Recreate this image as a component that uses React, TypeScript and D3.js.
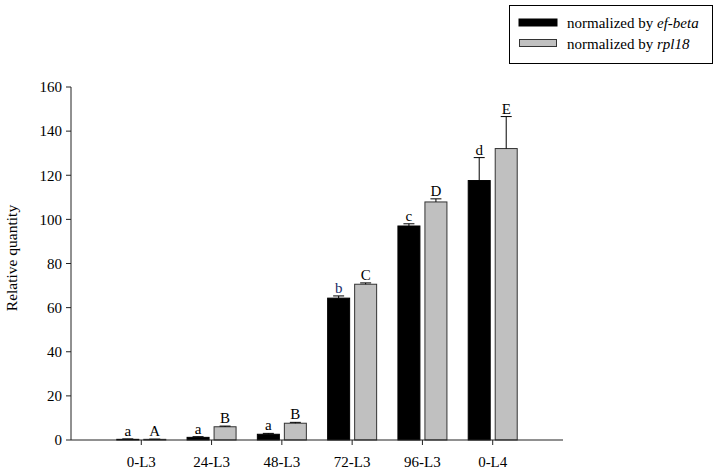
import * as React from 'react';
import * as d3 from 'd3';

const categories = ['0-L3', '24-L3', '48-L3', '72-L3', '96-L3', '0-L4'];
const efBeta = [0.3, 1.2, 2.6, 64.3, 97.0, 117.6];
const efBetaErr = [0.2, 0.3, 0.4, 1.0, 1.0, 10.4];
const efBetaLetters = ['a', 'a', 'a', 'b', 'c', 'd'];
const rpl18 = [0.3, 6.0, 7.6, 70.6, 107.9, 132.1];
const rpl18Err = [0.1, 0.3, 0.4, 0.6, 1.4, 14.5];
const rpl18Letters = ['A', 'B', 'B', 'C', 'D', 'E'];
const yTicks = [0, 20, 40, 60, 80, 100, 120, 140, 160];

const width = 719;
const height = 473;
const font = '"Liberation Serif", "Times New Roman", serif';

export default function App() {
  const x = d3.scalePoint<string>().domain(categories).range([71, 563]).padding(1);
  const y = d3.scaleLinear().domain([0, 160]).range([440, 87]);

  const barW = 23;
  const gap = 2;

  const series = [
    {vals: efBeta, errs: efBetaErr, letters: efBetaLetters, fill: '#000', stroke: '#000', off: -gap - barW},
    {vals: rpl18, errs: rpl18Err, letters: rpl18Letters, fill: '#c0c0c0', stroke: '#333', off: gap},
  ];

  return (
    <svg width={width} height={height} style={{position: 'absolute', left: 0, top: 0, background: '#fff', fontFamily: font}}>
      {series.map((s, si) => (
        <g key={si}>
          {categories.map((c, i) => {
            const x0 = x(c)! + s.off;
            const cx = x0 + barW / 2;
            const top = y(s.vals[i] + s.errs[i]);
            const letterColor = s.letters[i] === 'b' ? '#1c2c66' : '#000';
            return (
              <g key={c}>
                <rect x={x0 + 0.5} y={y(s.vals[i])} width={barW - 1} height={y(0) - y(s.vals[i])}
                  fill={s.fill} stroke={s.stroke} strokeWidth={1} />
                <line x1={cx} x2={cx} y1={y(s.vals[i])} y2={top} stroke="#000" />
                <line x1={cx - 5.5} x2={cx + 5.5} y1={top} y2={top} stroke="#000" />
                <text x={cx} y={top - 3} textAnchor="middle" fontSize={15} fill={letterColor}>{s.letters[i]}</text>
              </g>
            );
          })}
        </g>
      ))}

      {/* y axis */}
      <line x1={71} x2={71} y1={87} y2={440} stroke="#222" />
      {yTicks.map(t => (
        <g key={t}>
          <line x1={66} x2={71} y1={y(t)} y2={y(t)} stroke="#222" />
          <text x={62} y={y(t)} dy="0.35em" textAnchor="end" fontSize={15}>{t}</text>
        </g>
      ))}
      <text transform={`translate(17,258) rotate(-90)`} textAnchor="middle" fontSize={15.5}>
        Relative quantity
      </text>

      {/* x axis */}
      <line x1={71} x2={563} y1={440} y2={440} stroke="#222" />
      {categories.map(c => (
        <g key={c}>
          <line x1={x(c)!} x2={x(c)!} y1={440} y2={445} stroke="#222" />
          <text x={x(c)!} y={467} textAnchor="middle" fontSize={15}>{c}</text>
        </g>
      ))}

      {/* legend */}
      <rect x={509.5} y={5.5} width={203} height={58} fill="#fff" stroke="#000" />
      <rect x={519} y={19} width={38} height={7} fill="#000" stroke="#000" />
      <text x={567} y={28} fontSize={15}>normalized by <tspan fontStyle="italic">ef-beta</tspan></text>
      <rect x={519.5} y={39.5} width={37} height={7} fill="#c0c0c0" stroke="#333" />
      <text x={567} y={49} fontSize={15}>normalized by <tspan fontStyle="italic">rpl18</tspan></text>
    </svg>
  );
}
